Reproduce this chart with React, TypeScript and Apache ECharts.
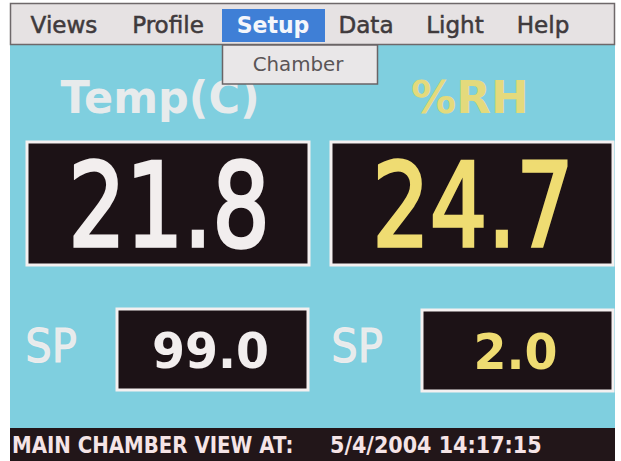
import React, { useEffect, useRef } from "react";
import * as echarts from "echarts";

const menuItems = ["Views", "Profile", "Setup", "Data", "Light", "Help"];
const menuX = [64, 168, 273, 366, 455, 543];
const activeMenu = "Setup";
const dropdownItems = ["Chamber"];
const readingLabels = ["Temp(C)", "%RH"];
const readingValues = ["21.8", "24.7"];
const setpointLabel = "SP";
const setpointValues = ["99.0", "2.0"];
const statusLabel = "MAIN CHAMBER VIEW AT:";
const statusTimestamp = "5/4/2004 14:17:15";

const CYAN = "#7fcfdf";
const WHITE_TXT = "#f2eeee";
const YELLOW_TXT = "#efdc72";
const BOX_FILL = "#1c1216";

export default function App() {
  const ref = useRef<HTMLDivElement>(null);
  useEffect(() => {
    if (!ref.current) return;
    const chart = echarts.init(ref.current, null, { renderer: "svg" });
    const F = "DejaVu Sans";
    const els: any[] = [];
    // screen background
    els.push({ type: "rect", shape: { x: 10, y: 3, width: 605, height: 457 }, style: { fill: CYAN } });
    // menu bar
    els.push({ type: "rect", shape: { x: 10.5, y: 3.5, width: 604, height: 41 }, style: { fill: "#e6e2e3", stroke: "#6e686a", lineWidth: 1.5 } });
    menuItems.forEach((m, i) => {
      const active = m === activeMenu;
      if (active) {
        els.push({ type: "rect", shape: { x: 222, y: 9, width: 103, height: 33 }, style: { fill: "#3f7fd6" } });
      }
      els.push({
        type: "text", x: menuX[i], y: 25, scaleX: active ? 1 : 1.05, scaleY: 1.05,
        style: { text: m, font: `${active ? "bold " : ""}22px '${F}'`, fill: active ? "#f4f6fb" : "#3f3a3c", stroke: active ? undefined : "#3f3a3c", lineWidth: active ? 0 : 0.5, align: "center", verticalAlign: "middle" },
      });
    });
    // labels
    const colX = [160, 470];
    const colColors = [WHITE_TXT, YELLOW_TXT];
    readingLabels.forEach((l, i) => {
      els.push({ type: "text", x: colX[i], y: 97, scaleX: i === 0 ? 1.0 : 1.05, scaleY: 1.05, style: { text: l, font: `bold 43px '${F}'`, fill: colColors[i], align: "center", verticalAlign: "middle", opacity: 0.92 } });
    });
    // dropdown
    els.push({ type: "rect", shape: { x: 222.5, y: 45, width: 155, height: 39 }, style: { fill: "#e9e7e8", stroke: "#6a6466", lineWidth: 1.5 } });
    dropdownItems.forEach((d, i) => {
      els.push({ type: "text", x: 298, y: 64 + i * 30, scaleX: 1.1, scaleY: 1.1, style: { text: d, font: `18px '${F}'`, fill: "#5a5557", align: "center", verticalAlign: "middle" } });
    });
    // main boxes
    const boxes = [[27, 142, 282, 123], [331, 142, 282, 123]];
    readingValues.forEach((v, i) => {
      const [x, y, w, h] = boxes[i];
      els.push({ type: "rect", shape: { x, y, width: w, height: h }, style: { fill: BOX_FILL, stroke: "#f4f0f0", lineWidth: 3 } });
      els.push({ type: "text", x: x + w / 2 + 1, y: y + h / 2 + 2, scaleX: 0.78, scaleY: 1.0, style: { text: v, font: `116px '${F}'`, fill: colColors[i], stroke: colColors[i], lineWidth: 3.5, align: "center", verticalAlign: "middle" } });
    });
    // setpoints
    const spLabelX = [51, 357];
    const spBoxes = [[117, 309, 191, 81], [422, 310, 191, 81]];
    setpointValues.forEach((v, i) => {
      els.push({ type: "text", x: spLabelX[i], y: 346, scaleX: 0.95, scaleY: 1.05, style: { text: setpointLabel, font: `44px '${F}'`, fill: WHITE_TXT, stroke: WHITE_TXT, lineWidth: 1, align: "center", verticalAlign: "middle", opacity: 0.92 } });
      const [x, y, w, h] = spBoxes[i];
      els.push({ type: "rect", shape: { x, y, width: w, height: h }, style: { fill: BOX_FILL, stroke: "#f4f0f0", lineWidth: 3 } });
      els.push({ type: "text", x: x + w / 2 - 2, y: y + h / 2 + 1, scaleX: 0.95, scaleY: 1.0, style: { text: v, font: `bold 50px '${F}'`, fill: colColors[i], align: "center", verticalAlign: "middle" } });
    });
    // status bar
    els.push({ type: "rect", shape: { x: 10, y: 428, width: 605, height: 33 }, style: { fill: "#221619" } });
    els.push({ type: "text", x: 12, y: 445, scaleX: 0.86, style: { text: statusLabel, font: `bold 23px '${F}'`, fill: "#f5e4e6", align: "left", verticalAlign: "middle" } });
    els.push({ type: "text", x: 330, y: 445, scaleX: 0.9, style: { text: statusTimestamp, font: `bold 23px '${F}'`, fill: "#f5e4e6", align: "left", verticalAlign: "middle" } });

    chart.setOption({ animation: false, backgroundColor: "#ffffff", graphic: { elements: els } });
    return () => chart.dispose();
  }, []);
  return <div ref={ref} style={{ position: "fixed", left: 0, top: 0, width: 621, height: 461 }} />;
}
